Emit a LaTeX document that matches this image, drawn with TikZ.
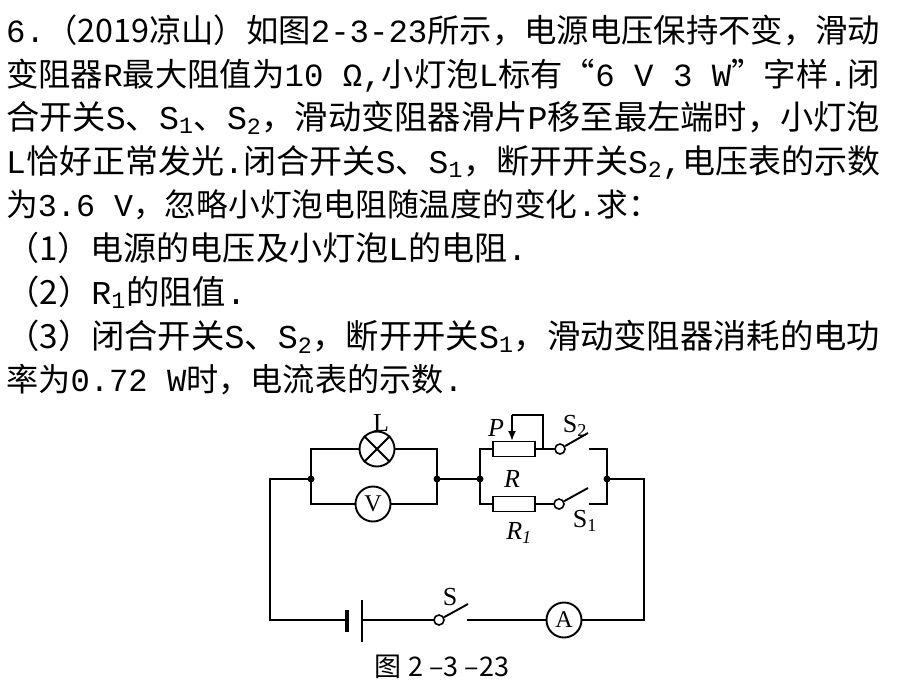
\documentclass[tikz,border=0pt]{standalone}
\usepackage{fontspec}
\usetikzlibrary{arrows.meta}
\setmainfont{Liberation Mono}
\newfontfamily\cjk{Noto Sans CJK SC}
\newfontfamily\serif{Liberation Serif}
\newcommand{\zh}[1]{{\cjk #1}}
\newcommand{\sbs}[1]{\textsubscript{#1}}
\begin{document}
\begin{tikzpicture}[x=1pt,y=-1pt,
  txt/.style={anchor=base west,inner sep=0pt,font=\fontsize{27}{27}\selectfont},
  w/.style={line width=1.9pt},
  dot/.style={circle,fill,inner sep=0pt,minimum size=7pt},
  meter/.style={circle,draw,line width=1.9pt,minimum size=35pt,inner sep=0pt,fill=white,font=\fontsize{24}{24}\selectfont\serif},
  res/.style={draw,line width=1.9pt,minimum width=42pt,minimum height=15pt,inner sep=0pt,fill=white},
  cont/.style={circle,draw,line width=1.6pt,minimum size=10pt,inner sep=0pt,fill=white},
  lab/.style={font=\fontsize{26}{26}\selectfont\serif,inner sep=0pt}]
\useasboundingbox (0,0) rectangle (910,683);
\fill[white] (0,0) rectangle (910,683);
\newcommand{\fitline}[2]{\resizebox{#1pt}{!}{#2}}
\node[txt] (l1) at (6,42) {\fitline{874}{6.\zh{（2019凉山）如图}2-3-23\zh{所示，电源电压保持不变，滑动}}};
\node[txt] (l2) at (6,86) {\fitline{874}{\zh{变阻器}R\zh{最大阻值为}10 Ω,\zh{小灯泡}L\zh{标有“}6 V 3 W\zh{”字样}.\zh{闭}}};
\node[txt] (l3) at (6,129) {\fitline{874}{\zh{合开关}S\zh{、}S\sbs{1}\zh{、}S\sbs{2}\zh{，滑动变阻器滑片}P\zh{移至最左端时，小灯泡}}};
\node[txt] (l4) at (6,173) {\fitline{874}{L\zh{恰好正常发光}.\zh{闭合开关}S\zh{、}S\sbs{1}\zh{，断开开关}S\sbs{2},\zh{电压表的示数}}};
\node[txt] (l5) at (6,216) {\fitline{654}{\zh{为}3.6 V\zh{，忽略小灯泡电阻随温度的变化}.\zh{求：}}};
\node[txt] (l6) at (6,260) {\fitline{521}{\zh{（1）电源的电压及小灯泡}L\zh{的电阻}.}};
\node[txt] (l7) at (6,304) {\fitline{240}{\zh{（2）}R\sbs{1}\zh{的阻值}.}};
\node[txt] (l8) at (6,348) {\fitline{874}{\zh{（3）闭合开关}S\zh{、}S\sbs{2}\zh{，断开开关}S\sbs{1}\zh{，滑动变阻器消耗的电功}}};
\node[txt] (l9) at (6,391) {\fitline{457}{\zh{率为}0.72 W\zh{时，电流表的示数}.}};
% circuit
\coordinate (jl) at (311,479); \coordinate (jm) at (437,479);
\coordinate (jr) at (480,479); \coordinate (je) at (607,479);
\draw[w] (jl) |- (311,449) -- (437,449) -- (jm);
\draw[w] (jl) |- (311,504) -- (437,504) -- (jm);
\draw[w] (jm) -- (jr);
\draw[w] (jl) -- (270,479) |- (347,620);
\draw[w] (362,620) -- (439,620);
\draw[w] (467,620) -- (644,620) |- (je);
\node[meter] (L) at (377,449) {};
\draw[w] (L.north east) -- (L.south west) (L.north west) -- (L.south east);
\node[meter] (V) at (373,504) {V};
\node[meter] (A) at (564,620) {A};
\draw[w] (jr) |- (560,449);
\draw[w] (jr) |- (559,504);
\node[res] (R) at (514,449) {};
\node[res] (R1) at (514,504) {};
\node[cont] (c2) at (560,449) {};
\node[cont] (c1) at (559,504) {};
\node[cont] (cs) at (439,620) {};
\draw[w] (c2) -- (588,433);
\draw[w] (c1) -- (588,488);
\draw[w] (cs) -- (468,604);
\draw[w] (589,449) -| (je) (589,504) -| (je);
\draw[w] (543,449) |- (512,415);
\draw[w,-{Latex[length=10pt,width=8pt]}] (512,415) -- (512,441);
\draw[line width=3.4pt] (347,610) -- (347,632);
\draw[w] (362,600) -- (362,642);
\foreach \p in {jl,jm,jr,je} \node[dot] at (\p) {};
\node[lab] (tL) at (381,423) {L};
\node[lab] (tP) at (496,428) {\itshape P};
\node[lab] (tS2) at (575,426) {S\textsubscript{2}};
\node[lab] (tR) at (512,479) {\itshape R};
\node[lab] (tR1) at (519,533) {\itshape R\textsubscript{1}};
\node[lab] (tS1) at (585,521) {S\textsubscript{1}};
\node[lab] (tS) at (450,597) {S};
\node[inner sep=0pt,font=\fontsize{27}{27}\selectfont\cjk] (cap) at (442,667) {图 2 –3 –23};
\end{tikzpicture}
\end{document}
